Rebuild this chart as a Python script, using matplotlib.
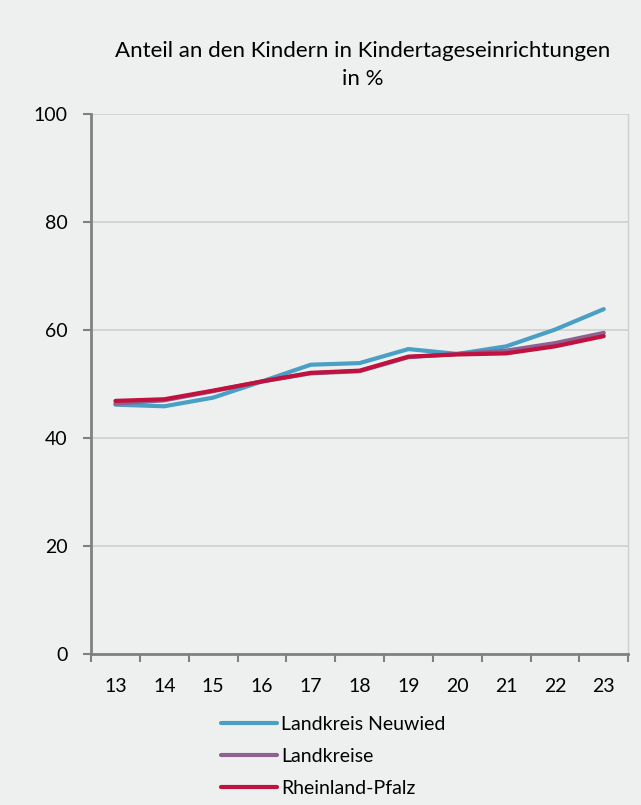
import matplotlib
matplotlib.use("Agg")
import matplotlib.pyplot as plt
import numpy as np

plt.rcParams['font.family'] = ['Lato', 'DejaVu Sans']

years = ['13', '14', '15', '16', '17', '18', '19', '20', '21', '22', '23']
neuwied = [46.2, 45.9, 47.5, 50.5, 53.6, 53.9, 56.5, 55.6, 57.0, 60.1, 63.9]
landkreise = [46.4, 47.0, 48.7, 50.5, 52.0, 52.4, 55.0, 55.6, 56.2, 57.6, 59.5]
rlp = [46.9, 47.2, 48.8, 50.5, 52.1, 52.5, 55.1, 55.5, 55.7, 57.0, 58.9]
series_names = ['Landkreis Neuwied', 'Landkreise', 'Rheinland-Pfalz']
colors = ['#4a9fc4', '#8d6290', '#c0113f']

bg = '#eef0ef'
fig = plt.figure(figsize=(6.41, 8.05), dpi=100, facecolor=bg)
ax = fig.add_axes([0.142, 0.1876, 0.838, 0.6704], facecolor=bg)

x = np.arange(len(years))
for vals, name, c in zip([neuwied, landkreise, rlp], series_names, colors):
    ax.plot(x, vals, color=c, lw=3.0, label=name, solid_capstyle='round')

ax.set_ylim(0, 100)
ax.set_xlim(-0.5, len(years) - 0.5)
ax.set_yticks([0, 20, 40, 60, 80, 100])
ax.yaxis.grid(True, color='#cfcfcf', lw=1.2)
ax.set_axisbelow(True)

ax.set_xticks(x)
ax.set_xticklabels(years)
ax.set_xticks(np.arange(-0.5, len(years)), minor=True)
ax.tick_params(axis='x', which='major', length=0, pad=17, labelsize=14)
ax.tick_params(axis='x', which='minor', length=6, width=1.5, color='#808080', direction='out')
ax.tick_params(axis='y', length=6, width=1.5, color='#808080', pad=11, labelsize=14)

for s in ['left', 'bottom']:
    ax.spines[s].set_color('#808080')
    ax.spines[s].set_linewidth(2)
ax.spines['top'].set_visible(False)
ax.spines['right'].set_color('#cfcfcf')
ax.spines['right'].set_linewidth(1)

fig.text(0.566, 0.9195, 'Anteil an den Kindern in Kindertageseinrichtungen\nin %',
         ha='center', va='center', fontsize=16, linespacing=1.5)

fig.legend(loc='upper left', bbox_to_anchor=(0.345, 0.111), frameon=False,
           fontsize=14, handlelength=2.85, handletextpad=0.25, labelspacing=0.78,
           borderpad=0, borderaxespad=0)

fig.savefig('out.png', dpi=100, facecolor=bg)
